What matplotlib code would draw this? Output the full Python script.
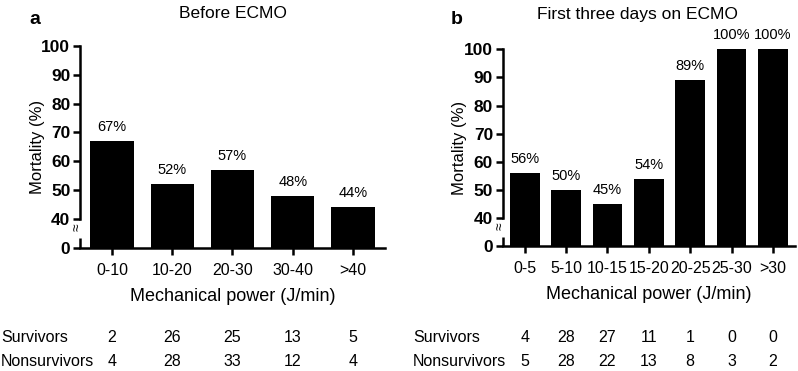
import numpy as np
import matplotlib.pyplot as plt
import matplotlib.transforms as mtransforms

plt.rcParams['font.family'] = ['Liberation Sans', 'DejaVu Sans']

# Panel a data
cats_a = ["0-10", "10-20", "20-30", "30-40", ">40"]
mort_a = [67, 52, 57, 48, 44]
surv_a = [2, 26, 25, 13, 5]
nonsurv_a = [4, 28, 33, 12, 4]

# Panel b data
cats_b = ["0-5", "5-10", "10-15", "15-20", "20-25", "25-30", ">30"]
mort_b = [56, 50, 45, 54, 89, 100, 100]
surv_b = [4, 28, 27, 11, 1, 0, 0]
nonsurv_b = [5, 28, 22, 13, 8, 3, 2]

yticks = [0, 40, 50, 60, 70, 80, 90, 100]


def fwd(v):
    # compressed 0-40 segment of the broken axis
    v = np.asarray(v, dtype=float)
    return np.where(v >= 40, v, 30 + v / 4.0)


def inv(u):
    u = np.asarray(u, dtype=float)
    return np.where(u >= 40, u, (u - 30) * 4.0)


def panel(fig, rect, cats, mort, surv, nonsurv, ylab_x):
    ax = fig.add_axes(rect)
    ax.set_yscale('function', functions=(fwd, inv))
    x = np.arange(len(cats))
    ax.bar(x, mort, width=0.72, color='black')
    for xi, m in zip(x, mort):
        ax.text(xi, m + 2.5, f"{m}%", ha='center', va='bottom', fontsize=10.5)
    ax.set_xlim(-0.53, len(cats) - 0.47)
    ax.set_ylim(0, 100)
    ax.set_yticks(yticks)
    ax.set_yticklabels([str(t) for t in yticks], fontweight='bold', fontsize=12.5)
    ax.set_xticks(x)
    ax.set_xticklabels(cats, fontsize=11.5)
    for s in ['top', 'right']:
        ax.spines[s].set_visible(False)
    ax.spines['left'].set_linewidth(1.8)
    ax.spines['bottom'].set_linewidth(1.8)
    ax.spines['left'].set_bounds(40, 100)
    ax.plot([ax.get_xlim()[0]] * 2, [0, 13], color='black', lw=1.8, clip_on=False,
            solid_capstyle='butt')
    ax.text(-0.012, 0.1, "≈", transform=ax.transAxes, rotation=90,
            ha='center', va='center', fontsize=10)
    ax.tick_params(axis='both', width=1.8, length=5, direction='out')
    ax.tick_params(axis='x', pad=6)
    ax.tick_params(axis='y', pad=2)
    ax.set_xlabel("Mechanical power (J/min)", fontsize=13, labelpad=7)
    ax.set_ylabel("Mortality (%)", fontsize=12)
    ax.yaxis.set_label_coords(ylab_x, 0.5)
    # survivors / nonsurvivors table under the bars
    trans = mtransforms.blended_transform_factory(ax.transData, fig.transFigure)
    for xi, s, n in zip(x, surv, nonsurv):
        ax.text(xi, 1 - 337 / 371, str(s), transform=trans, ha='center', va='center', fontsize=11.5)
        ax.text(xi, 1 - 362 / 371, str(n), transform=trans, ha='center', va='center', fontsize=11.5)
    return ax


fig = plt.figure(figsize=(7.98, 3.71), dpi=100)
ax1 = panel(fig, [0.1003, 0.3323, 0.382, 0.544], cats_a, mort_a, surv_a, nonsurv_a, -0.115)
ax2 = panel(fig, [0.630, 0.337, 0.366, 0.530], cats_b, mort_b, surv_b, nonsurv_b, -0.123)

fig.text(233 / 798, 1 - 14 / 371, "Before ECMO", ha='center', va='center', fontsize=12.5)
fig.text(637 / 798, 1 - 14 / 371, "First three days on ECMO", ha='center', va='center', fontsize=12.5)
for xs in [0.001, 413 / 798]:
    fig.text(xs, 1 - 337 / 371, "Survivors", ha='left', va='center', fontsize=11.5)
    fig.text(xs, 1 - 362 / 371, "Nonsurvivors", ha='left', va='center', fontsize=11.5)
fig.text(29 / 798, 1 - 20 / 371, "a", ha='left', va='center', fontsize=14, fontweight='bold')
fig.text(451 / 798, 1 - 20 / 371, "b", ha='left', va='center', fontsize=14, fontweight='bold')

fig.savefig("out.png", dpi=100)
